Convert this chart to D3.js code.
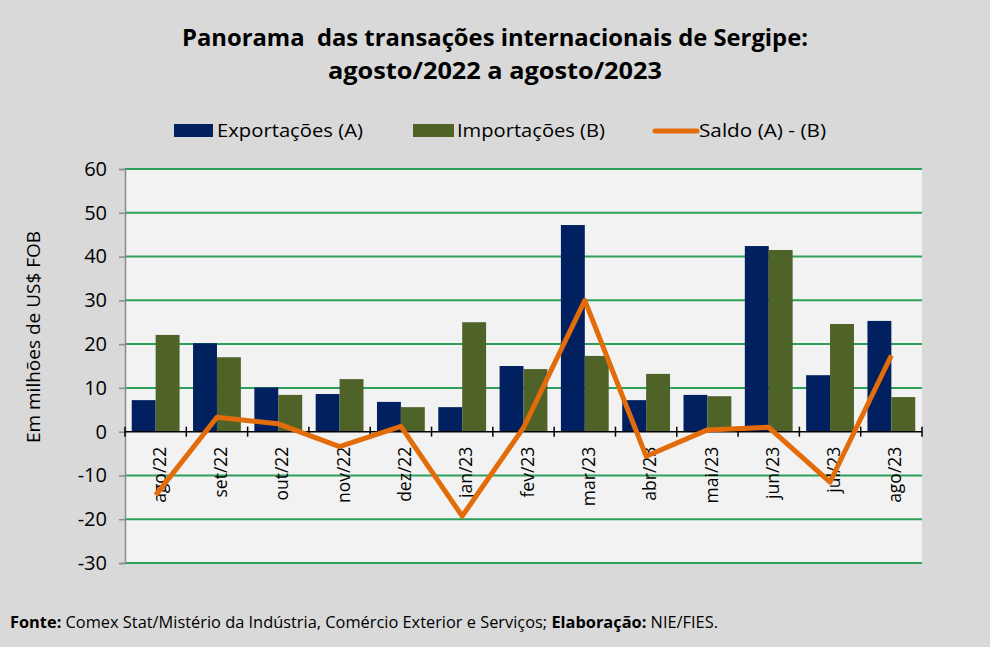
<!DOCTYPE html>
<html>
<head>
<meta charset="utf-8">
<script src="https://cdn.jsdelivr.net/npm/d3@7"></script>
<style>
  body { margin: 0; background: #d9d9d9; }
  svg { display: block; font-family: "Open Sans", sans-serif; }
</style>
</head>
<body>
<div id="chart"></div>
<script>
// Data (US$ millions FOB)
const months = ["ago/22", "set/22", "out/22", "nov/22", "dez/22", "jan/23", "fev/23",
  "mar/23", "abr/23", "mai/23", "jun/23", "jul/23", "ago/23"];
const exportacoes = [7.2, 20.2, 10.1, 8.6, 6.8, 5.6, 15.0, 47.2, 7.2, 8.4, 42.4, 12.9, 25.3];
const importacoes = [22.1, 17.0, 8.4, 12.0, 5.6, 25.0, 14.3, 17.3, 13.2, 8.1, 41.5, 24.6, 7.9];
const saldo = [-14.5, 3.3, 1.8, -3.4, 1.2, -19.3, 0.9, 30.0, -5.6, 0.4, 1.0, -11.5, 17.4];
const yTicks = [-30, -20, -10, 0, 10, 20, 30, 40, 50, 60];
const seriesNames = ["Exportações (A)", "Importações (B)", "Saldo (A) - (B)"];

const W = 990, H = 647;
const colors = { exp: "#002060", imp: "#4f6228", saldo: "#e36c0a", grid: "#2ca05a" };

const svg = d3.select("#chart").append("svg")
  .attr("width", W).attr("height", H);

svg.append("rect").attr("width", W).attr("height", H).attr("fill", "#d9d9d9");

// Scales
const y = d3.scaleLinear().domain([-30, 60]).range([563, 169]);
const x = d3.scaleBand().domain(months).range([125, 922])
  .paddingInner(0.22).paddingOuter(0.11);
const xs = d3.scaleBand().domain(["exp", "imp"]).range([0, x.bandwidth()]);

// Plot background
svg.append("rect")
  .attr("x", 125).attr("y", y(60))
  .attr("width", 922 - 125).attr("height", y(-30) - y(60))
  .attr("fill", "#f2f2f2");

// Gridlines
svg.append("g").selectAll("line")
  .data(yTicks.filter(d => d !== 0))
  .join("line")
  .attr("x1", 125).attr("x2", 922)
  .attr("y1", d => y(d)).attr("y2", d => y(d))
  .attr("stroke", colors.grid).attr("stroke-width", 2);

// Y axis (plain hyphen for negatives, as in the source)
const yAxis = svg.append("g")
  .attr("transform", "translate(125,0)")
  .call(d3.axisLeft(y).tickValues(yTicks).tickSize(6).tickPadding(12)
    .tickFormat(d => String(d)));
yAxis.select(".domain").attr("stroke", "#8c8c8c").attr("stroke-width", 1.5);
yAxis.selectAll(".tick line").attr("stroke", "#8c8c8c").attr("stroke-width", 1.5);
yAxis.selectAll("text")
  .attr("font-size", 20).attr("fill", "#000")
  .attr("font-family", "Open Sans, sans-serif");

// Bars
const groups = svg.append("g").selectAll("g")
  .data(months)
  .join("g")
  .attr("transform", d => `translate(${x(d)},0)`);

groups.append("rect")
  .attr("x", xs("exp")).attr("width", xs.bandwidth())
  .attr("y", (d, i) => y(Math.max(0, exportacoes[i])))
  .attr("height", (d, i) => Math.abs(y(exportacoes[i]) - y(0)))
  .attr("fill", colors.exp);

groups.append("rect")
  .attr("x", xs("imp")).attr("width", xs.bandwidth())
  .attr("y", (d, i) => y(Math.max(0, importacoes[i])))
  .attr("height", (d, i) => Math.abs(y(importacoes[i]) - y(0)))
  .attr("fill", colors.imp);

// Zero axis with category boundary ticks
const zero = svg.append("g");
zero.append("line")
  .attr("x1", 125).attr("x2", 922)
  .attr("y1", y(0)).attr("y2", y(0))
  .attr("stroke", "#000").attr("stroke-width", 1.5);
const bounds = months.map(m => x(m) - x.step() * x.paddingInner() / 2).concat([922]);
zero.selectAll("line.tk")
  .data(bounds)
  .join("line")
  .attr("class", "tk")
  .attr("x1", d => d).attr("x2", d => d)
  .attr("y1", y(0) - 5).attr("y2", y(0) + 5)
  .attr("stroke", "#000").attr("stroke-width", 1.5);

// Month labels (rotated)
svg.append("g").selectAll("text")
  .data(months)
  .join("text")
  .attr("transform", d => `translate(${x(d) + x.bandwidth() / 2 + 4},${y(0) + 15}) rotate(-90)`)
  .attr("text-anchor", "end")
  .attr("dy", "0.35em")
  .attr("font-size", 17.5)
  .attr("fill", "#000")
  .text(d => d);

// Saldo line
const line = d3.line()
  .x((d, i) => x(months[i]) + x.bandwidth() / 2)
  .y(d => y(d));
svg.append("path")
  .datum(saldo)
  .attr("d", line)
  .attr("fill", "none")
  .attr("stroke", colors.saldo)
  .attr("stroke-width", 5)
  .attr("stroke-linejoin", "round");

// Y axis title
svg.append("text")
  .attr("transform", "translate(33,337) rotate(-90)")
  .attr("text-anchor", "middle")
  .attr("dy", "0.35em")
  .attr("font-size", 19)
  .attr("fill", "#000")
  .text("Em milhões de US$ FOB");

// Title
const title = ["Panorama  das transações internacionais de Sergipe:", "agosto/2022 a agosto/2023"];
const titleWidths = [626, 334];
svg.append("g").selectAll("text")
  .data(title)
  .join("text")
  .attr("x", 495)
  .attr("y", (d, i) => 46 + i * 33)
  .attr("text-anchor", "middle")
  .attr("font-size", 24)
  .attr("font-weight", "bold")
  .attr("fill", "#000")
  .style("white-space", "pre")
  .attr("textLength", (d, i) => titleWidths[i])
  .attr("lengthAdjust", "spacingAndGlyphs")
  .text(d => d);

// Legend
const legend = svg.append("g");
const legendX = [174, 413, 655];
legend.append("rect").attr("x", legendX[0]).attr("y", 124).attr("width", 39).attr("height", 13).attr("fill", colors.exp);
legend.append("rect").attr("x", legendX[1]).attr("y", 124).attr("width", 41).attr("height", 13).attr("fill", colors.imp);
legend.append("line").attr("x1", legendX[2]).attr("x2", legendX[2] + 42)
  .attr("y1", 131).attr("y2", 131)
  .attr("stroke", colors.saldo).attr("stroke-width", 5).attr("stroke-linecap", "round");
const legendTextX = [217, 457, 699];
const legendTextW = [146, 148, 127];
legend.selectAll("text")
  .data(seriesNames)
  .join("text")
  .attr("x", (d, i) => legendTextX[i])
  .attr("y", 131)
  .attr("dy", "0.35em")
  .attr("font-size", 18.5)
  .attr("fill", "#000")
  .attr("textLength", (d, i) => legendTextW[i])
  .attr("lengthAdjust", "spacingAndGlyphs")
  .text(d => d);

// Footer
const foot = svg.append("text")
  .attr("x", 10).attr("y", 628)
  .attr("font-size", 15.5)
  .attr("fill", "#000")
  .attr("textLength", 708)
  .attr("lengthAdjust", "spacingAndGlyphs");
foot.append("tspan").attr("font-weight", "bold").text("Fonte:");
foot.append("tspan").text(" Comex Stat/Mistério da Indústria, Comércio Exterior e Serviços; ");
foot.append("tspan").attr("font-weight", "bold").text("Elaboração:");
foot.append("tspan").text(" NIE/FIES.");
</script>
</body>
</html>
